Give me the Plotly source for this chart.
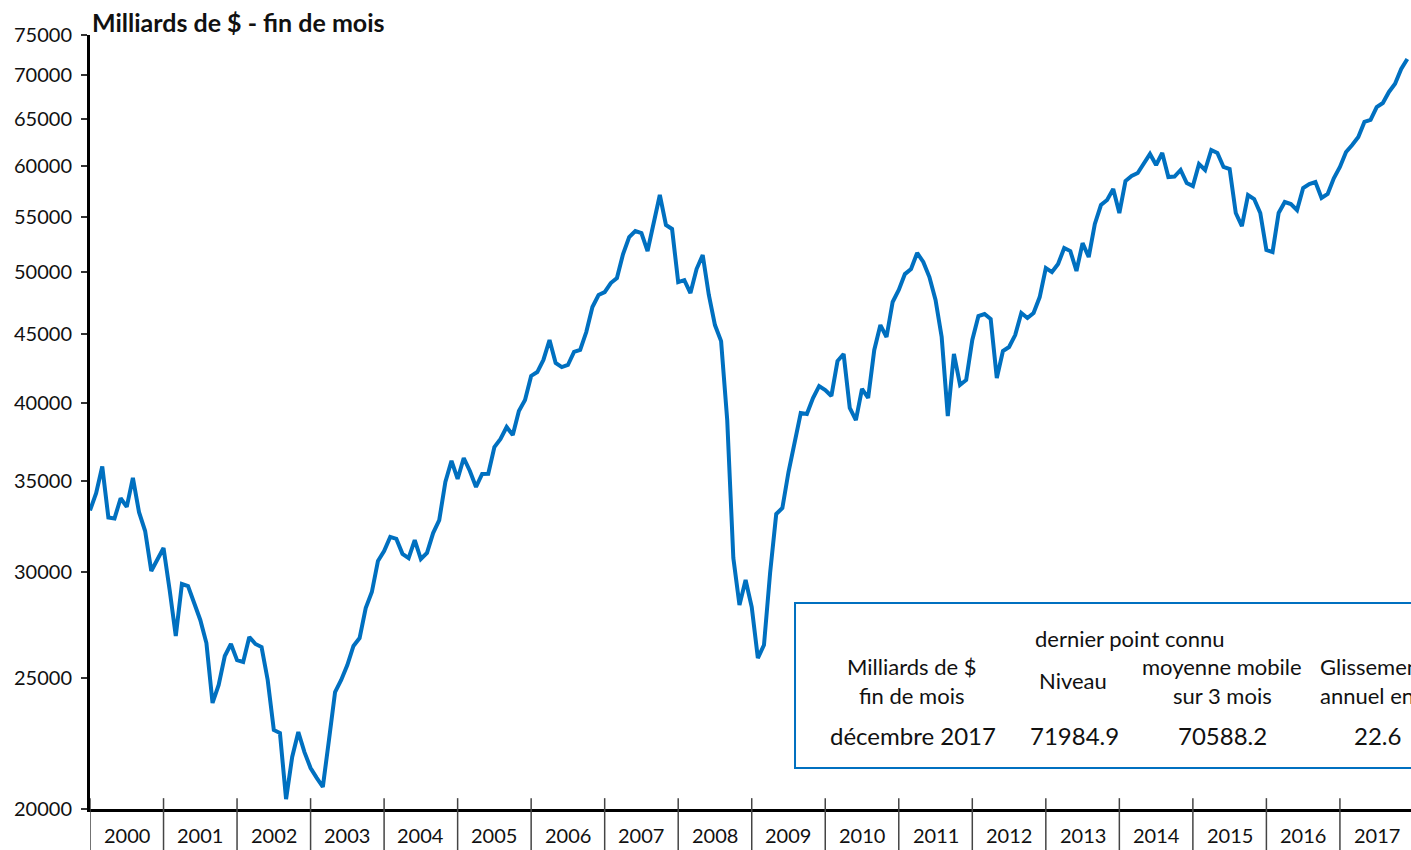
import plotly.graph_objects as go

# ---------------- data ----------------
years = list(range(2000, 2018))

# monthly values, billions of $ (end of month), Jan 2000 .. Dec 2017
values_2000 = [33300, 34300, 35900, 32900, 32850, 34000, 33500, 35200, 33200, 32150, 30030, 30600]
values_2001 = [31230, 29070, 26870, 29370, 29270, 28430, 27620, 26550, 23970, 24720, 25970, 26510]
values_2002 = [25790, 25710, 26830, 26510, 26370, 24930, 22890, 22770, 20340, 21860, 22810, 22040]
values_2003 = [21450, 21090, 20770, 22500, 24420, 24930, 25570, 26420, 26780, 28190, 28970, 30550]
values_2004 = [31070, 31830, 31720, 30920, 30700, 31660, 30650, 30970, 32040, 32760, 34960, 36240]
values_2005 = [35140, 36420, 35620, 34660, 35440, 35450, 37110, 37620, 38400, 37880, 39460, 40210]
values_2006 = [41900, 42180, 43060, 44550, 42840, 42540, 42690, 43650, 43800, 45160, 47130, 48110]
values_2007 = [48350, 49100, 49520, 51600, 53110, 53660, 53480, 51860, 54400, 57070, 54220, 53850]
values_2008 = [49180, 49350, 48270, 50290, 51510, 48110, 45700, 44470, 38860, 30700, 28330, 29570]
values_2009 = [28240, 25880, 26460, 29930, 33100, 33440, 35560, 37370, 39330, 39260, 40350, 41180]
values_2010 = [40900, 40490, 42980, 43500, 39670, 38860, 40980, 40350, 43800, 45700, 44780, 47540]
values_2011 = [48520, 49860, 50290, 51690, 50900, 49610, 47700, 44780, 39130, 43500, 41260, 41610]
values_2012 = [44550, 46410, 46570, 46180, 41750, 43720, 44020, 44930, 46650, 46260, 46650, 47940]
values_2013 = [50380, 50030, 50720, 52130, 51860, 50120, 52570, 51330, 54310, 56100, 56590, 57650]
values_2014 = [55340, 58450, 58950, 59250, 60280, 61210, 60070, 61320, 58850, 58900, 59560, 58250]
values_2015 = [57950, 60170, 59560, 61630, 61320, 59870, 59660, 55340, 54120, 57070, 56680, 55340]
values_2016 = [51950, 51770, 55340, 56390, 56200, 55620, 57750, 58150, 58350, 56780, 57170, 58715]
values_2017 = [59870, 61420, 62160, 63010, 64650, 64870, 66320, 66780, 68050, 69000, 70780, 71984.9]

values = (values_2000 + values_2001 + values_2002 + values_2003 + values_2004 + values_2005
          + values_2006 + values_2007 + values_2008 + values_2009 + values_2010 + values_2011
          + values_2012 + values_2013 + values_2014 + values_2015 + values_2016 + values_2017)
months = list(range(len(values)))

y_ticks = [20000, 25000, 30000, 35000, 40000, 45000, 50000, 55000, 60000, 65000, 70000, 75000]

title_text = "Milliards de $ - fin de mois"
table_header_top = "dernier point connu"
table_col1 = ["Milliards de $", "fin de mois"]
table_col2 = "Niveau"
table_col3 = ["moyenne mobile", "sur 3 mois"]
table_col4 = ["Glissement", "annuel en %"]
table_row = ["décembre 2017", "71984.9", "70588.2", "22.6"]

# ---------------- figure ----------------
FONT = "Lato"
BLUE = "#0070C0"

fig = go.Figure()
fig.add_trace(go.Scatter(
    x=months, y=values, mode="lines",
    line=dict(color=BLUE, width=4), hoverinfo="skip", showlegend=False,
))

x_end = 215.6
fig.update_layout(
    width=1411, height=850,
    margin=dict(l=90, r=0, t=35, b=41),
    paper_bgcolor="white", plot_bgcolor="white",
    font=dict(family=FONT, size=20, color="#111"),
    showlegend=False,
    xaxis=dict(range=[0, x_end], showgrid=False, zeroline=False, showticklabels=False,
               ticks="", showline=True, linecolor="black", linewidth=3),
    yaxis=dict(type="log", range=[4.30103, 4.875061], showgrid=False, zeroline=False,
               tickvals=y_ticks, ticktext=[str(v) for v in y_ticks],
               ticks="outside", ticklen=6, tickwidth=1.5, tickcolor="#333",
               ticklabelstandoff=5,
               showline=True, linecolor="black", linewidth=3,
               tickfont=dict(family=FONT, size=20, color="#111")),
)

# year boundary ticks and year labels
shapes = []
for k, yr in enumerate(years):
    shapes.append(dict(type="line", xref="x", yref="paper", x0=12 * k, x1=12 * k,
                       y0=-0.06, y1=0.014, line=dict(color="#444", width=1.5)))
annotations = []
for k, yr in enumerate(years):
    annotations.append(dict(x=12 * k + 6, y=-0.034, xref="x", yref="paper", text=str(yr),
                            showarrow=False, xanchor="center", yanchor="middle",
                            font=dict(family=FONT, size=20, color="#111")))

# title
annotations.append(dict(x=0.0, y=1.017, xref="paper", yref="paper", text=title_text,
                        showarrow=False, xanchor="left", yanchor="middle",
                        font=dict(family=FONT, size=25, color="#111", weight="bold")))

# info table box
shapes.append(dict(type="rect", xref="paper", yref="paper", x0=0.5337, x1=1.05,
                   y0=0.053, y1=0.266, line=dict(color=BLUE, width=2), fillcolor="white",
                   layer="above"))

def px_to_paper(px, py):
    return (px - 90) / 1321.0, (809 - py) / 774.0

def add_text(px, py, text, size=22, anchor="center"):
    x, y = px_to_paper(px, py)
    annotations.append(dict(x=x, y=y, xref="paper", yref="paper", text=text, showarrow=False,
                            xanchor=anchor, yanchor="middle",
                            font=dict(family=FONT, size=size, color="#111")))

add_text(1130, 638, table_header_top)
add_text(912, 666, table_col1[0])
add_text(912, 695, table_col1[1])
add_text(1073, 680, table_col2)
add_text(1222, 666, table_col3[0])
add_text(1222, 695, table_col3[1])
add_text(1318, 666, table_col4[0], anchor="left")
add_text(1318, 695, table_col4[1], anchor="left")
add_text(913, 735, table_row[0], size=24)
add_text(1074, 735, table_row[1], size=24)
add_text(1222, 735, table_row[2], size=24)
add_text(1352, 735, table_row[3], size=24, anchor="left")

fig.update_layout(shapes=shapes, annotations=annotations)
fig.write_html("out.html", config={"displayModeBar": False},
               post_script="document.body.style.margin='0';document.body.style.overflow='hidden';")
